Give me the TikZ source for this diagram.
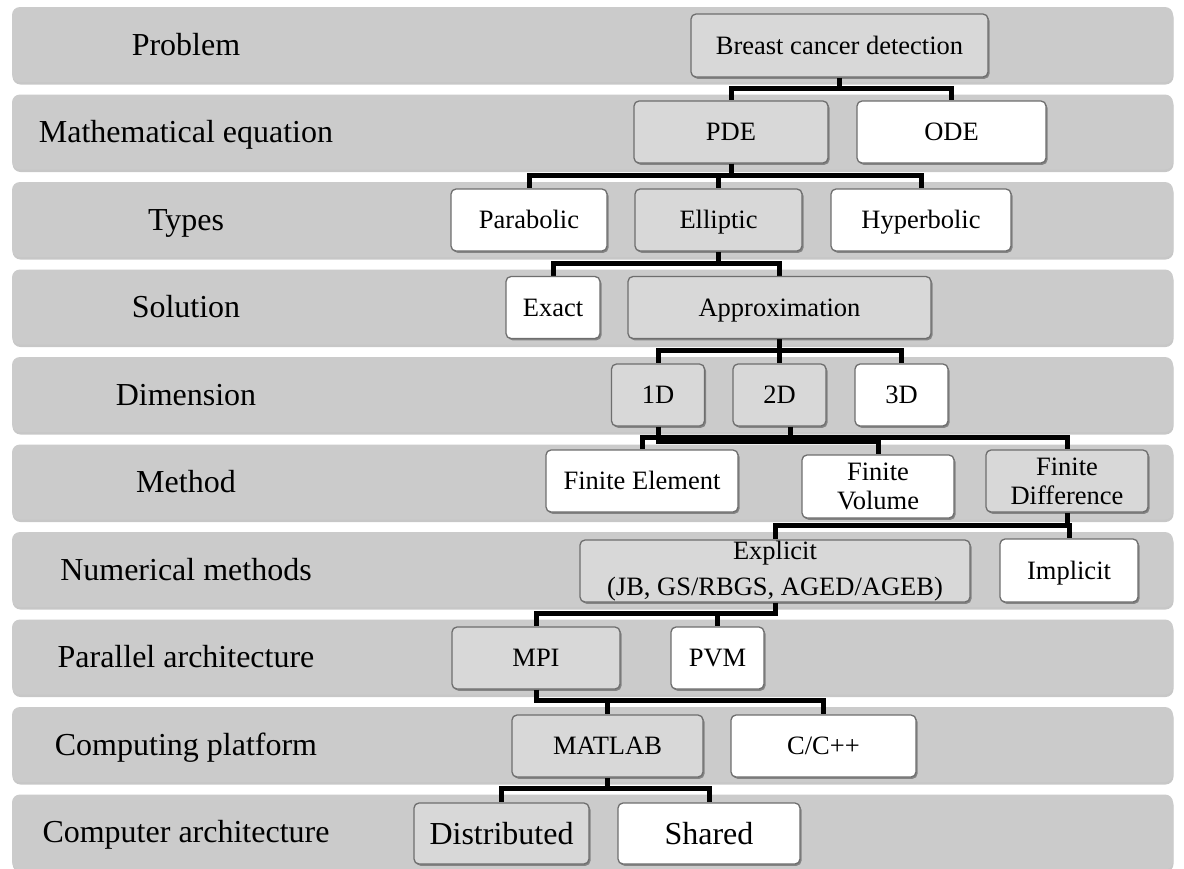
\documentclass[tikz,border=0pt]{standalone}
\usepackage{fontspec}
\setmainfont{Liberation Serif}
\usetikzlibrary{shadows,calc}
\definecolor{bandgray}{HTML}{CBCBCB}
\definecolor{boxgray}{HTML}{D8D8D8}
\definecolor{edgegray}{HTML}{6E6E6E}
\pgfdeclarelayer{bandlayer}
\pgfdeclarelayer{linelayer}
\pgfsetlayers{bandlayer,linelayer,main}
\newcommand\bxfont{\fontsize{26.5}{29}\selectfont}
\newcommand\bigbxfont{\fontsize{32}{36}\selectfont}
\newcommand\lblfont{\fontsize{32}{38}\selectfont}
\tikzset{
  band/.style={fill=bandgray, rounded corners=8pt,
    drop shadow={shadow xshift=0.5pt, shadow yshift=-2.5pt, opacity=0.22, fill=black}},
  lbl/.style={font=\lblfont, inner sep=0pt, text height=24pt, text depth=3pt},
  box/.style={draw=edgegray, line width=1.3pt, rounded corners=5pt, inner sep=0pt,
    align=center, font=\bxfont,
    drop shadow={shadow xshift=1.5pt, shadow yshift=-1.8pt, opacity=0.35, fill=black}},
  one/.style={text height=20pt, text depth=2.5pt},
  bigone/.style={font=\bigbxfont, text height=24pt, text depth=3pt},
  gbox/.style={box, fill=boxgray},
  wbox/.style={box, fill=white},
  conn/.style={draw=black, line width=5pt}
}
\begin{document}
\begin{tikzpicture}[x=1pt,y=-1pt]
\useasboundingbox (0,0) rectangle (1184,868);
% bands
\begin{pgfonlayer}{bandlayer}
\fill[white] (0,0) rectangle (1184,868);
\foreach \t in {7,94.5,182,269.5,357,444.5,532,619.5,707,794.5}{
  \fill[band] (12,\t) rectangle (1173,\t+75);
}
\end{pgfonlayer}
% row labels
\node[lbl] (l1) at (186,44.5) {Problem};
\node[lbl] (l2) at (186,132) {Mathematical equation};
\node[lbl] (l3) at (186,219.5) {Types};
\node[lbl] (l4) at (186,307) {Solution};
\node[lbl] (l5) at (186,394.5) {Dimension};
\node[lbl] (l6) at (186,482) {Method};
\node[lbl] (l7) at (186,569.5) {Numerical methods};
\node[lbl] (l8) at (186,657) {Parallel architecture};
\node[lbl] (l9) at (186,744.5) {Computing platform};
\node[lbl] (l10) at (186,832) {Computer architecture};
% boxes
\node[gbox, one, minimum width=297pt, minimum height=63pt] (bcd) at (839.5,45.5) {Breast cancer detection};
\node[gbox, one, minimum width=194pt, minimum height=62pt] (pde) at (731,132) {PDE};
\node[wbox, one, minimum width=189pt, minimum height=62pt] (ode) at (951.5,132) {ODE};
\node[wbox, one, minimum width=156pt, minimum height=62pt] (parab) at (529,220) {Parabolic};
\node[gbox, one, minimum width=167pt, minimum height=62pt] (ellip) at (718.5,220) {Elliptic};
\node[wbox, one, minimum width=180pt, minimum height=62pt] (hyper) at (921,220) {Hyperbolic};
\node[wbox, one, minimum width=94pt, minimum height=62pt] (exact) at (553,307.5) {Exact};
\node[gbox, one, minimum width=303pt, minimum height=62pt] (approx) at (779.5,307.5) {Approximation};
\node[gbox, one, minimum width=93pt, minimum height=62pt] (d1) at (658,395) {1D};
\node[gbox, one, minimum width=93pt, minimum height=62pt] (d2) at (779.5,395) {2D};
\node[wbox, one, minimum width=93pt, minimum height=62pt] (d3) at (901.5,395) {3D};
\node[wbox, one, minimum width=192pt, minimum height=62pt] (fe) at (642,481) {Finite Element};
\node[wbox, minimum width=152pt, minimum height=63pt] (fv) at (878,486.5) {Finite\\Volume};
\node[gbox, minimum width=162pt, minimum height=62pt] (fd) at (1067,481) {Finite\\Difference};
\node[gbox, minimum width=390pt, minimum height=62pt] (expl) at (775,571) {Explicit\\[7pt](JB, GS/RBGS, AGED/AGEB)};
\node[wbox, one, minimum width=138pt, minimum height=63pt] (impl) at (1069,570.5) {Implicit};
\node[gbox, one, minimum width=168pt, minimum height=62pt] (mpi) at (536,658) {MPI};
\node[wbox, one, minimum width=93pt, minimum height=62pt] (pvm) at (717.5,658) {PVM};
\node[gbox, one, minimum width=191pt, minimum height=62pt] (matlab) at (607.5,746) {MATLAB};
\node[wbox, one, minimum width=185pt, minimum height=62pt] (cpp) at (823.5,746) {C/C++};
\node[gbox, bigone, minimum width=175pt, minimum height=61pt] (dist) at (501.5,833.5) {Distributed};
\node[wbox, bigone, minimum width=182pt, minimum height=61pt] (shared) at (709,833.5) {Shared};
% bar levels
\coordinate (b1) at (0,88);
\coordinate (b2) at (0,175.5);
\coordinate (b3) at (0,263);
\coordinate (b4) at (0,350.5);
\coordinate (b5) at (0,437);
\coordinate (b5b) at (0,441);
\coordinate (b6) at (0,525.5);
\coordinate (b7) at (0,613);
\coordinate (b8) at (0,700.5);
\coordinate (b9) at (0,788);
\coordinate (d2s) at ($(d2.south)+(11,0)$);
% connectors
\begin{pgfonlayer}{linelayer}
\foreach \c in {pde,ode}{\draw[conn] (bcd.south) -- (bcd.south |- b1) -| (\c.north);}
\foreach \c in {parab,ellip,hyper}{\draw[conn] (pde.south) -- (pde.south |- b2) -| (\c.north);}
\foreach \c in {exact,approx}{\draw[conn] (ellip.south) -- (ellip.south |- b3) -| (\c.north);}
\foreach \c in {d1,d2,d3}{\draw[conn] (approx.south) -- (approx.south |- b4) -| (\c.north);}
\foreach \c in {fe,fv,fd}{\draw[conn] (d2s) -- (d2s |- b5) -| (\c.north);}
\draw[conn] (d1.south) -- (d1.south |- b5b) -| (fv.north);
\foreach \c in {expl,impl}{\draw[conn] (fd.south) -- (fd.south |- b6) -| (\c.north);}
\foreach \c in {mpi,pvm}{\draw[conn] (expl.south) -- (expl.south |- b7) -| (\c.north);}
\foreach \c in {matlab,cpp}{\draw[conn] (mpi.south) -- (mpi.south |- b8) -| (\c.north);}
\foreach \c in {dist,shared}{\draw[conn] (matlab.south) -- (matlab.south |- b9) -| (\c.north);}
\end{pgfonlayer}
\end{tikzpicture}
\end{document}
